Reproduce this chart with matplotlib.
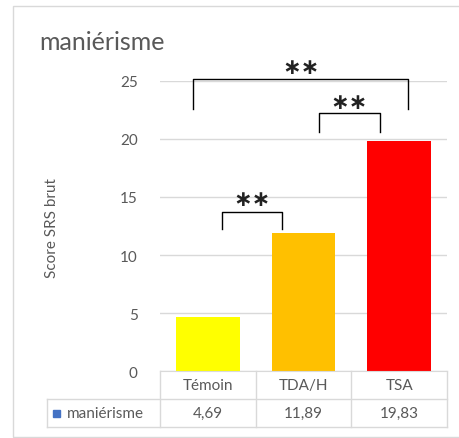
import matplotlib.pyplot as plt
from matplotlib.lines import Line2D
from matplotlib.patches import Rectangle

groups = ['Témoin', 'TDA/H', 'TSA']
scores = [4.69, 11.89, 19.83]
score_labels = ['4,69', '11,89', '19,83']
series_name = 'maniérisme'
bar_colors = ['#FFFF00', '#FFC000', '#FF0000']
yticks = [0, 5, 10, 15, 20, 25]

# significance brackets: (x left, x right, y top, y feet, y of stars)
brackets = [
    (0.15, 0.78, 13.7, 12.2, 14.8),
    (1.16, 1.80, 22.2, 20.6, 23.2),
    (-0.15, 2.09, 25.2, 22.6, 26.2),
]

plt.rcParams['font.family'] = ['Lato', 'DejaVu Sans']
grey = '#595959'
light = '#D9D9D9'

fig = plt.figure(figsize=(4.6, 4.39), dpi=100)
W, H = 460, 439

# outer chart frame
fig.add_artist(Rectangle((13 / W, 1 - 438 / H), 1.2, (438 - 7) / H,
                         transform=fig.transFigure, fill=False,
                         edgecolor=light, lw=1))

ax = fig.add_axes([160 / W, 1 - 372 / H, (447 - 160) / W, (372 - 82) / H])
x = range(len(groups))
ax.bar(x, scores, width=0.667, color=bar_colors, zorder=2)
ax.set_xlim(-0.5, 2.5)
ax.set_ylim(0, 25)
ax.set_yticks(yticks)
ax.yaxis.grid(True, color=light, lw=1, zorder=0)
ax.set_xticks([])
for s in ['top', 'right', 'left']:
    ax.spines[s].set_visible(False)
ax.spines['bottom'].set_color(light)
ax.tick_params(axis='y', length=0, labelsize=11, labelcolor=grey, pad=16)

fig.text(52 / W, 1 - 228 / H, 'Score SRS brut', rotation=90, fontsize=11,
         color=grey, ha='center', va='center')
fig.text(39 / W, 1 - 42 / H, 'maniérisme', fontsize=18, color=grey,
         va='center', ha='left')

for x0, x1, yt, yf, ytx in brackets:
    ax.add_line(Line2D([x0, x0, x1, x1], [yf, yt, yt, yf], color='black',
                       lw=1, clip_on=False))
    ax.text((x0 + x1) / 2, ytx, '\u2217\u2217', ha='center', va='center',
            fontsize=16, fontweight='bold', color='#222222',
            family='DejaVu Sans')

# data table below the plot
tr = ax.transAxes
r1, r2 = -28 / 290, -56 / 290
xl = (47 - 160) / 287
cols = [0, 1 / 3, 2 / 3, 1]
for c in cols:
    ax.add_line(Line2D([c, c], [0, r2], transform=tr, color=light, lw=1,
                       clip_on=False))
ax.add_line(Line2D([xl, xl], [r1, r2], transform=tr, color=light, lw=1,
                   clip_on=False))
for r in (r1, r2):
    ax.add_line(Line2D([xl, 1], [r, r], transform=tr, color=light, lw=1,
                       clip_on=False))
for i, g in enumerate(groups):
    xc = (i + 0.5) / 3
    ax.text(xc, r1 / 2, g, transform=tr, ha='center', va='center',
            fontsize=11, color=grey)
    ax.text(xc, (r1 + r2) / 2, score_labels[i], transform=tr, ha='center',
            va='center', fontsize=11, color=grey)
ax.add_patch(Rectangle((xl + 6 / 287, (r1 + r2) / 2 - 3.5 / 290),
                       7 / 287, 7 / 290, transform=tr, color='#4472C4',
                       clip_on=False))
ax.text(xl + 20 / 287, (r1 + r2) / 2, series_name, transform=tr,
        ha='left', va='center', fontsize=11, color=grey)

fig.savefig('out.png', dpi=100)
